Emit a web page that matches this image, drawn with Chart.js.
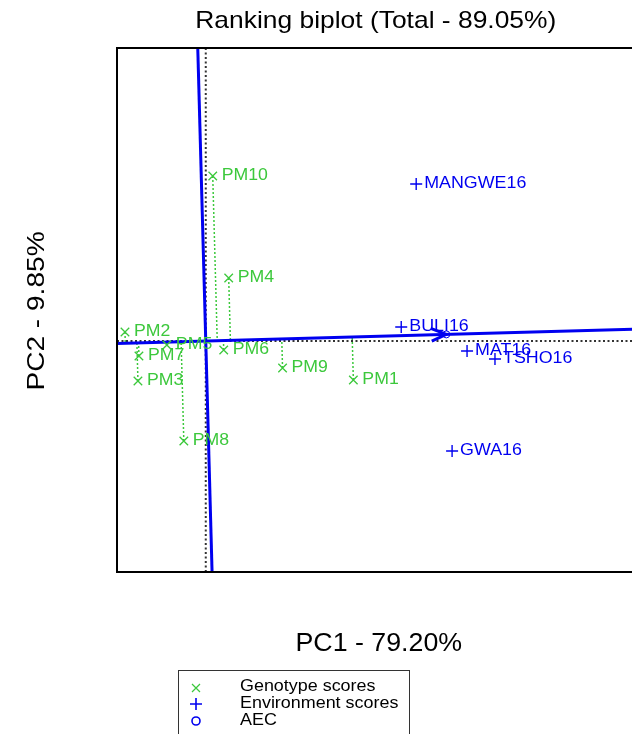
<!DOCTYPE html>
<html>
<head>
<meta charset="utf-8">
<script src="https://cdn.jsdelivr.net/npm/chart.js@4.4.0/dist/chart.umd.min.js"></script>
<style>
html, body { margin: 0; padding: 0; overflow: hidden; background: #fff; }
canvas { display: block; }
</style>
</head>
<body>
<canvas id="biplot" width="640" height="734"></canvas>
<script>
// genotype scores
const genotypes = ['PM1', 'PM2', 'PM3', 'PM4', 'PM5', 'PM6', 'PM7', 'PM8', 'PM9', 'PM10'];
const genoPC1 = [1.48, -0.81, -0.68, 0.23, -0.39, 0.18, -0.67, -0.22, 0.77, 0.07];
const genoPC2 = [-0.39, 0.09, -0.40, 0.63, -0.04, -0.09, -0.15, -1.00, -0.27, 1.65];

// environment scores
const environments = ['BULI16', 'GWA16', 'MANGWE16', 'MAT16', 'TSHO16'];
const envPC1 = [1.96, 2.47, 2.11, 2.62, 2.90];
const envPC2 = [0.14, -1.10, 1.57, -0.10, -0.18];

// axis limits (no ticks drawn)
const pc1Range = [-0.89, 4.28];
const pc2Range = [-2.31, 2.93];

const GREEN = '#3cc83c';
const BLUE = '#0000f0';
const FONT = '"Liberation Sans", Arial, sans-serif';

const mean = a => a.reduce((s, v) => s + v, 0) / a.length;

// average environment coordinate
const aecX = mean(envPC1);
const aecY = mean(envPC2);
const slope = aecY / aecX;
const uLen = Math.hypot(aecX, aecY);
const ux = aecX / uLen, uy = aecY / uLen;

const datasets = [];

datasets.push({
    label: 'Genotype scores',
    data: genotypes.map((g, i) => ({ x: genoPC1[i], y: genoPC2[i] })),
    pointStyle: 'crossRot',
    pointRadius: 6,
    borderColor: GREEN,
    backgroundColor: GREEN,
    pointBorderWidth: 1.3,
    order: 0
});

datasets.push({
    label: 'Environment scores',
    data: environments.map((e, i) => ({ x: envPC1[i], y: envPC2[i] })),
    pointStyle: 'cross',
    pointRadius: 6,
    borderColor: BLUE,
    backgroundColor: BLUE,
    pointBorderWidth: 1.4,
    order: 0
});

datasets.push({
    label: 'AEC',
    data: [{ x: aecX, y: aecY }],
    pointStyle: 'circle',
    pointRadius: 3.5,
    borderColor: BLUE,
    backgroundColor: 'rgba(0,0,0,0)',
    pointBorderWidth: 1,
    order: 0
});

// AEC abscissa and ordinate
datasets.push({
    data: [{ x: pc1Range[0], y: slope * pc1Range[0] }, { x: pc1Range[1], y: slope * pc1Range[1] }],
    showLine: true, pointRadius: 0, borderColor: BLUE, borderWidth: 3, order: 1
});
datasets.push({
    data: [{ x: -slope * pc2Range[0], y: pc2Range[0] }, { x: -slope * pc2Range[1], y: pc2Range[1] }],
    showLine: true, pointRadius: 0, borderColor: BLUE, borderWidth: 3, order: 1
});

// zero lines
datasets.push({
    data: [{ x: pc1Range[0], y: 0 }, { x: pc1Range[1], y: 0 }],
    showLine: true, pointRadius: 0, borderColor: '#333', borderWidth: 2, borderDash: [2, 2.5], order: 3
});
datasets.push({
    data: [{ x: 0, y: pc2Range[0] }, { x: 0, y: pc2Range[1] }],
    showLine: true, pointRadius: 0, borderColor: '#333', borderWidth: 2, borderDash: [2, 2.5], order: 3
});

// projections of genotypes onto the AEC abscissa
genotypes.forEach((g, i) => {
    const d = genoPC1[i] * ux + genoPC2[i] * uy;
    datasets.push({
        data: [{ x: genoPC1[i], y: genoPC2[i] }, { x: d * ux, y: d * uy }],
        showLine: true, pointRadius: 0, borderColor: GREEN, borderWidth: 1.5, borderDash: [2, 2], order: 2
    });
});

// text is slightly stretched along its direction in the original
function stretchedText(ctx, text, x, y, size, sx, align) {
    ctx.save();
    ctx.font = size + 'px ' + FONT;
    ctx.textBaseline = 'middle';
    ctx.textAlign = align || 'left';
    ctx.translate(x, y);
    ctx.scale(sx, 1);
    ctx.fillText(text, 0, 0);
    ctx.restore();
}

const decor = {
    id: 'decor',
    afterDatasetsDraw(chart) {
        const ctx = chart.ctx;
        const a = chart.chartArea;
        const xs = chart.scales.x, ys = chart.scales.y;
        ctx.save();

        // arrow head at AEC
        const tx = xs.getPixelForValue(aecX), ty = ys.getPixelForValue(aecY);
        const ang = Math.atan2(ty - ys.getPixelForValue(0), tx - xs.getPixelForValue(0));
        ctx.strokeStyle = BLUE;
        ctx.lineWidth = 3;
        ctx.beginPath();
        ctx.moveTo(tx - 16 * Math.cos(ang - 0.4), ty - 16 * Math.sin(ang - 0.4));
        ctx.lineTo(tx, ty);
        ctx.lineTo(tx - 16 * Math.cos(ang + 0.4), ty - 16 * Math.sin(ang + 0.4));
        ctx.stroke();

        // point labels
        ctx.fillStyle = GREEN;
        chart.getDatasetMeta(0).data.forEach((el, i) => {
            stretchedText(ctx, genotypes[i], el.x + 9, el.y - 1, 17, 1.04);
        });
        ctx.fillStyle = BLUE;
        chart.getDatasetMeta(1).data.forEach((el, i) => {
            stretchedText(ctx, environments[i], el.x + 8, el.y - 1, 17, 1.05);
        });

        // plot frame (right edge falls outside the picture)
        ctx.strokeStyle = '#000';
        ctx.lineWidth = 2;
        ctx.beginPath();
        ctx.moveTo(a.right + 10, a.top);
        ctx.lineTo(a.left, a.top);
        ctx.lineTo(a.left, a.bottom);
        ctx.lineTo(a.right + 10, a.bottom);
        ctx.stroke();
        ctx.restore();
    },
    afterDraw(chart) {
        const ctx = chart.ctx;
        const a = chart.chartArea;
        const cx = (a.left + a.right) / 2;
        ctx.save();
        ctx.fillStyle = '#000';
        stretchedText(ctx, 'Ranking biplot (Total - 89.05%)', cx + 1, 21, 24, 1.1, 'center');
        stretchedText(ctx, 'PC1 - 79.20%', cx + 4, 644, 25, 1.07, 'center');
        ctx.translate(37, (a.top + a.bottom) / 2 + 1);
        ctx.rotate(-Math.PI / 2);
        stretchedText(ctx, 'PC2 - 9.85%', 0, 0, 24, 1.17, 'center');
        ctx.restore();

        // legend
        ctx.save();
        ctx.strokeStyle = '#333';
        ctx.lineWidth = 1;
        ctx.strokeRect(178.5, 670.5, 231, 90);
        ctx.fillStyle = '#000';
        stretchedText(ctx, 'Genotype scores', 240, 687, 16, 1.12);
        stretchedText(ctx, 'Environment scores', 240, 704, 16, 1.12);
        stretchedText(ctx, 'AEC', 240, 721, 16, 1.12);
        ctx.lineWidth = 1.2;
        ctx.strokeStyle = GREEN;
        ctx.beginPath();
        ctx.moveTo(192, 684); ctx.lineTo(200, 692);
        ctx.moveTo(200, 684); ctx.lineTo(192, 692);
        ctx.stroke();
        ctx.strokeStyle = BLUE;
        ctx.lineWidth = 1.6;
        ctx.beginPath();
        ctx.moveTo(190, 704); ctx.lineTo(202, 704);
        ctx.moveTo(196, 698); ctx.lineTo(196, 710);
        ctx.stroke();
        ctx.beginPath();
        ctx.arc(196, 721, 4, 0, Math.PI * 2);
        ctx.stroke();
        ctx.restore();
    }
};

new Chart(document.getElementById('biplot'), {
    type: 'scatter',
    data: { datasets: datasets },
    options: {
        responsive: false,
        animation: false,
        layout: { padding: { left: 117, top: 48, right: 6, bottom: 162 } },
        scales: {
            x: { type: 'linear', display: false, min: pc1Range[0], max: pc1Range[1] },
            y: { type: 'linear', display: false, min: pc2Range[0], max: pc2Range[1] }
        },
        plugins: {
            legend: { display: false },
            tooltip: { enabled: false }
        }
    },
    plugins: [decor]
});
</script>
</body>
</html>
